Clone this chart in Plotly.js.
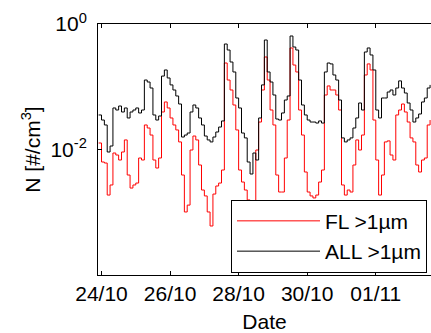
<!DOCTYPE html>
<html>
<head>
<meta charset="utf-8">
<script src="https://cdn.plot.ly/plotly-3.0.1.min.js"></script>
<style>html,body{margin:0;padding:0;background:#fff;overflow:hidden}#chart{width:431px;height:333px}</style>
</head>
<body>
<div id="chart"></div>
<script>
// Time stamps (2-hourly)
const times = [
'2014-10-23 22:00',
'2014-10-24 00:00','2014-10-24 02:00','2014-10-24 04:00','2014-10-24 06:00','2014-10-24 08:00','2014-10-24 10:00','2014-10-24 12:00','2014-10-24 14:00','2014-10-24 16:00','2014-10-24 18:00','2014-10-24 20:00','2014-10-24 22:00',
'2014-10-25 00:00','2014-10-25 02:00','2014-10-25 04:00','2014-10-25 06:00','2014-10-25 08:00','2014-10-25 10:00','2014-10-25 12:00','2014-10-25 14:00','2014-10-25 16:00','2014-10-25 18:00','2014-10-25 20:00','2014-10-25 22:00',
'2014-10-26 00:00','2014-10-26 02:00','2014-10-26 04:00','2014-10-26 06:00','2014-10-26 08:00','2014-10-26 10:00','2014-10-26 12:00','2014-10-26 14:00','2014-10-26 16:00','2014-10-26 18:00','2014-10-26 20:00','2014-10-26 22:00',
'2014-10-27 00:00','2014-10-27 02:00','2014-10-27 04:00','2014-10-27 06:00','2014-10-27 08:00','2014-10-27 10:00','2014-10-27 12:00','2014-10-27 14:00','2014-10-27 16:00','2014-10-27 18:00','2014-10-27 20:00','2014-10-27 22:00',
'2014-10-28 00:00','2014-10-28 02:00','2014-10-28 04:00','2014-10-28 06:00','2014-10-28 08:00','2014-10-28 10:00','2014-10-28 12:00','2014-10-28 14:00','2014-10-28 16:00','2014-10-28 18:00','2014-10-28 20:00','2014-10-28 22:00',
'2014-10-29 00:00','2014-10-29 02:00','2014-10-29 04:00','2014-10-29 06:00','2014-10-29 08:00','2014-10-29 10:00','2014-10-29 12:00','2014-10-29 14:00','2014-10-29 16:00','2014-10-29 18:00','2014-10-29 20:00','2014-10-29 22:00',
'2014-10-30 00:00','2014-10-30 02:00','2014-10-30 04:00','2014-10-30 06:00','2014-10-30 08:00','2014-10-30 10:00','2014-10-30 12:00','2014-10-30 14:00','2014-10-30 16:00','2014-10-30 18:00','2014-10-30 20:00','2014-10-30 22:00',
'2014-10-31 00:00','2014-10-31 02:00','2014-10-31 04:00','2014-10-31 06:00','2014-10-31 08:00','2014-10-31 10:00','2014-10-31 12:00','2014-10-31 14:00','2014-10-31 16:00','2014-10-31 18:00','2014-10-31 20:00','2014-10-31 22:00',
'2014-11-01 00:00','2014-11-01 02:00','2014-11-01 04:00','2014-11-01 06:00','2014-11-01 08:00','2014-11-01 10:00','2014-11-01 12:00','2014-11-01 14:00','2014-11-01 16:00','2014-11-01 18:00','2014-11-01 20:00','2014-11-01 22:00',
'2014-11-02 00:00','2014-11-02 02:00','2014-11-02 04:00','2014-11-02 06:00','2014-11-02 08:00','2014-11-02 10:00','2014-11-02 12:00','2014-11-02 14:00'
];

// FL >1um concentration [#/cm3]
const flValues = [
0.0127,
0.00632,0.00609,0.00188,0.00272,0.00879,0.00817,0.00680,0.00912,0.0142,0.00392,0.00243,0.00272,
0.00292,0.00732,0.00680,0.0246,0.0220,0.0170,0.00680,0.00507,0.00732,0.0396,0.0572,0.0459,
0.0318,0.0246,0.0205,0.0132,0.00392,0.00101,0.00130,0.00982,0.0164,0.0142,0.00566,0.00226,
0.00182,0.00101,0.000604,0.00195,0.00262,0.00292,0.00471,0.239,0.128,0.0888,0.0512,0.0205,
0.00471,0.00303,0.00226,0.00157,0.000904,0.000752,0.00982,0.0274,0.0888,0.298,0.128,0.0426,
0.0246,0.00392,0.00210,0.00210,0.00732,0.0295,0.415,0.222,0.172,0.0426,0.0170,0.00438,
0.00210,0.00182,0.00169,0.00188,0.00303,0.00471,0.0739,0.103,0.0888,0.0888,0.0739,0.0426,
0.00272,0.00188,0.00226,0.00210,0.00566,0.0142,0.00982,0.0170,0.154,0.231,0.185,0.0295,
0.00680,0.00188,0.00392,0.0132,0.0137,0.00817,0.00680,0.0355,0.0426,0.0531,0.0396,0.0274,
0.0153,0.0132,0.00566,0.00438,0.00680,0.00732,0.0246,0.0295
];

// ALL >1um concentration [#/cm3]
const allValues = [
0.0355,
0.0295,0.0246,0.00912,0.01137,0.0459,0.0426,0.0493,0.0396,0.0459,0.0318,0.0396,0.0426,
0.0459,0.0382,0.0426,0.128,0.119,0.0955,0.0355,0.0295,0.0342,0.148,0.185,0.138,
0.107,0.0888,0.0713,0.0531,0.0158,0.0170,0.0183,0.0396,0.0512,0.0459,0.0318,0.0246,
0.0164,0.0142,0.0132,0.0158,0.0190,0.0228,0.0285,0.480,0.385,0.248,0.172,0.0662,
0.0459,0.0183,0.0153,0.00632,0.00407,0.00879,0.00680,0.0318,0.107,0.556,0.172,0.119,
0.0739,0.0306,0.0295,0.0382,0.0615,0.0713,0.644,0.430,0.385,0.128,0.0512,0.0355,
0.0295,0.0274,0.0274,0.0264,0.0285,0.0264,0.172,0.239,0.231,0.154,0.128,0.0615,
0.0153,0.0132,0.0142,0.0153,0.0220,0.0318,0.0551,0.0426,0.358,0.415,0.321,0.185,
0.0426,0.0318,0.0662,0.0662,0.0825,0.0888,0.0739,0.0955,0.124,0.0955,0.0795,0.0551,
0.0426,0.0274,0.0318,0.0368,0.0572,0.0662,0.0955,0.107
];

const seriesNames = ['FL >1µm', 'ALL >1µm'];
const xTickVals = ['2014-10-24', '2014-10-26', '2014-10-28', '2014-10-30', '2014-11-01'];
const xTickText = ['24/10', '26/10', '28/10', '30/10', '01/11'];
const yTickVals = [0.01, 1];
const yTickText = ['10<sup>-2</sup>', '10<sup>0</sup>'];

const FONT = 'Arial, "Liberation Sans", sans-serif';

const traces = [
  {x: times, y: flValues, name: seriesNames[0], type: 'scatter', mode: 'lines',
   line: {color: '#ff0000', width: 1, shape: 'hv'}},
  {x: times, y: allValues, name: seriesNames[1], type: 'scatter', mode: 'lines',
   line: {color: '#000000', width: 1, shape: 'hv'}}
];

const layout = {
  width: 431, height: 333,
  margin: {l: 98, r: 0, t: 24, b: 58},
  paper_bgcolor: '#ffffff', plot_bgcolor: '#ffffff',
  font: {family: FONT, size: 21, color: '#000'},
  showlegend: true,
  legend: {x: 0.3994, y: 0.300, xanchor: 'left', yanchor: 'top',
    bgcolor: '#ffffff', bordercolor: '#000', borderwidth: 1,
    font: {family: FONT, size: 21, color: '#000'}, itemwidth: 83,
    tracegroupgap: 0},
  xaxis: {
    type: 'date',
    range: ['2014-10-23 21:33', '2014-11-02 14:39'],
    tickvals: xTickVals, ticktext: xTickText,
    ticks: 'inside', ticklen: 4, tickcolor: '#000', tickwidth: 1,
    showline: true, linecolor: '#000', linewidth: 1, mirror: 'allticks',
    showgrid: false, zeroline: false,
    tickfont: {family: FONT, size: 21, color: '#000'},
    title: {text: 'Date', font: {family: FONT, size: 21, color: '#000'}, standoff: 12}
  },
  yaxis: {
    type: 'log',
    range: [-4, 0],
    tickvals: yTickVals, ticktext: yTickText,
    ticks: 'inside', ticklen: 4, tickcolor: '#000', tickwidth: 1,
    ticklabelstandoff: 6,
    showline: true, linecolor: '#000', linewidth: 1, mirror: false,
    showgrid: false, zeroline: false,
    tickfont: {family: FONT, size: 21, color: '#000'},
    title: {text: 'N [#/cm<sup>3</sup>]', font: {family: FONT, size: 21, color: '#000'}, standoff: 4}
  }
};

Plotly.newPlot('chart', traces, layout, {staticPlot: true, displayModeBar: false});
</script>
</body>
</html>
